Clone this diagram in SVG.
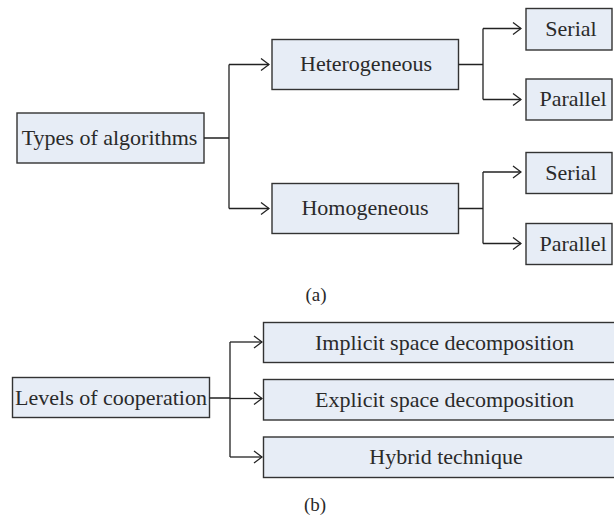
<svg xmlns="http://www.w3.org/2000/svg" width="614" height="518" viewBox="0 0 614 518">
  <defs>
    <marker id="arrow" viewBox="0 0 10 14" refX="9" refY="7" markerWidth="10" markerHeight="14" markerUnits="userSpaceOnUse" orient="auto">
      <path d="M1,1 L9,7 L1,13" fill="none" stroke="#222" stroke-width="1.3"/>
    </marker>
  </defs>
  <style>
    .box { fill: #e7edf6; stroke: #333; stroke-width: 1.4; }
    .lbl { font-family: "Liberation Serif", "DejaVu Serif", serif; font-size: 22px; fill: #2a2a2a; text-anchor: middle; }
    .cap { font-family: "Liberation Serif", "DejaVu Serif", serif; font-size: 19px; fill: #2a2a2a; text-anchor: middle; }
    .wire { fill: none; stroke: #222; stroke-width: 1.3; }
    .arr { fill: none; stroke: #222; stroke-width: 1.3; marker-end: url(#arrow); }
  </style>

  <rect width="614" height="518" fill="#ffffff"/>

  <!-- (a) types of algorithms -->
  <g id="types">
    <rect class="box" x="17" y="113" width="187" height="50"/>
    <text class="lbl" x="109.5" y="144.5">Types of algorithms</text>
  </g>
  <g id="heterogeneous">
    <rect class="box" x="272" y="39.5" width="186.5" height="50"/>
    <text class="lbl" x="366" y="71">Heterogeneous</text>
  </g>
  <g id="homogeneous">
    <rect class="box" x="272" y="183.5" width="186.5" height="50"/>
    <text class="lbl" x="365" y="215">Homogeneous</text>
  </g>
  <g id="het-serial">
    <rect class="box" x="526" y="8.5" width="86" height="41.5"/>
    <text class="lbl" x="571" y="36">Serial</text>
  </g>
  <g id="het-parallel">
    <rect class="box" x="526" y="79" width="86" height="41"/>
    <text class="lbl" x="573" y="106">Parallel</text>
  </g>
  <g id="hom-serial">
    <rect class="box" x="526" y="152.5" width="86" height="41"/>
    <text class="lbl" x="571" y="179.5">Serial</text>
  </g>
  <g id="hom-parallel">
    <rect class="box" x="526" y="223.5" width="86" height="41"/>
    <text class="lbl" x="573" y="250.5">Parallel</text>
  </g>
  <text class="cap" x="316" y="301">(a)</text>

  <!-- (b) levels of cooperation -->
  <g id="levels">
    <rect class="box" x="12.5" y="377.5" width="197" height="40"/>
    <text class="lbl" x="111" y="404.5">Levels of cooperation</text>
  </g>
  <g id="implicit">
    <rect class="box" x="263.5" y="322.5" width="364" height="40"/>
    <text class="lbl" x="444.5" y="349.5">Implicit space decomposition</text>
  </g>
  <g id="explicit">
    <rect class="box" x="263.5" y="379.5" width="364" height="40.5"/>
    <text class="lbl" x="444.5" y="406.5">Explicit space decomposition</text>
  </g>
  <g id="hybrid">
    <rect class="box" x="263.5" y="437" width="364" height="40.5"/>
    <text class="lbl" x="446" y="464">Hybrid technique</text>
  </g>
  <text class="cap" x="315" y="511">(b)</text>

  <g id="connectors">
    <!-- types -> heterogeneous / homogeneous -->
    <path class="wire" d="M204,138 H229 M229,64.5 V208.5"/>
    <path class="arr" d="M229,64.5 H269"/>
    <path class="arr" d="M229,208.5 H269"/>
    <!-- heterogeneous -> serial / parallel -->
    <path class="wire" d="M458.5,64.5 H483 M483,28.5 V99.5"/>
    <path class="arr" d="M483,28.5 H521"/>
    <path class="arr" d="M483,99.5 H521"/>
    <!-- homogeneous -> serial / parallel -->
    <path class="wire" d="M458.5,208.5 H483 M483,172 V243.5"/>
    <path class="arr" d="M483,172 H521"/>
    <path class="arr" d="M483,243.5 H521"/>
    <!-- levels -> decomposition kinds -->
    <path class="wire" d="M209.5,398 H230 M230,342 V457"/>
    <path class="arr" d="M230,342 H262"/>
    <path class="arr" d="M230,398.5 H262"/>
    <path class="arr" d="M230,457 H262"/>
  </g>
</svg>
